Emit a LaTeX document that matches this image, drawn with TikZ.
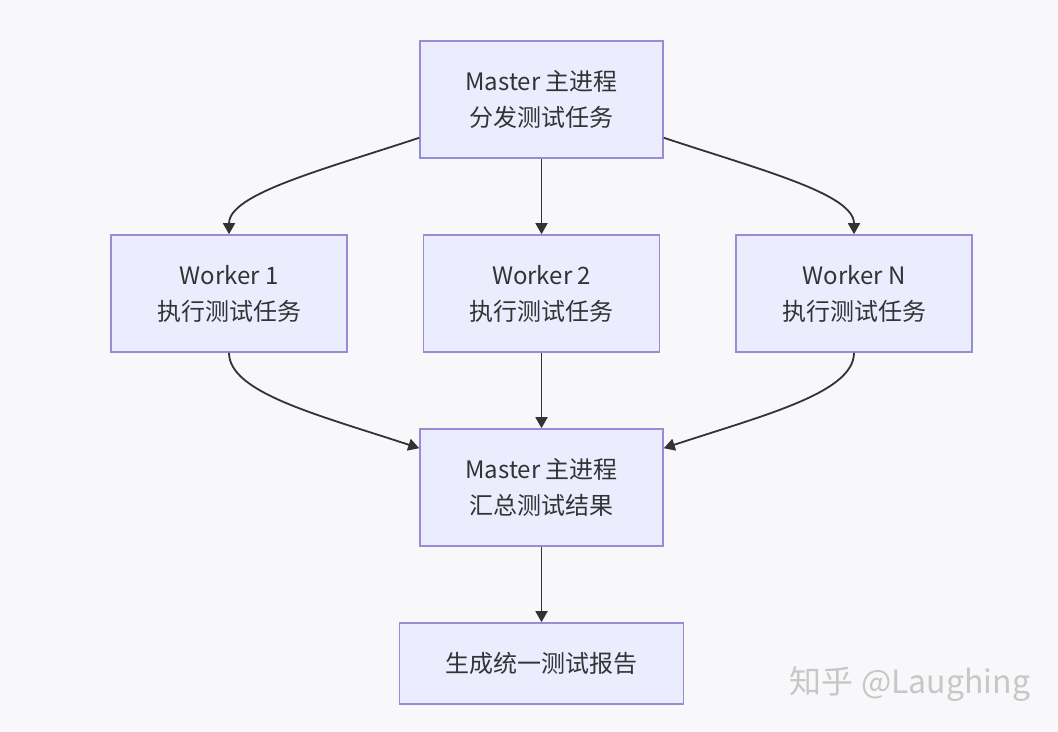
\documentclass[tikz,border=0pt]{standalone}
\usepackage{fontspec}
\newfontfamily\cjk{Noto Sans CJK SC}
\usetikzlibrary{arrows.meta}
\definecolor{bg}{HTML}{F8F8FB}
\definecolor{boxfill}{HTML}{ECECFF}
\definecolor{boxline}{HTML}{9A8CD4}
\definecolor{ink}{HTML}{333333}

\begin{document}
\begin{tikzpicture}[x=0.5pt, y=-0.5pt,
  box/.style={draw=boxline, fill=boxfill, line width=0.8pt, text=ink, align=center,
    minimum width=118pt, minimum height=58.5pt, inner sep=0pt,
    font=\cjk\fontsize{12}{18}\selectfont},
  link/.style={draw=ink, line width=0.9pt, -{Triangle[length=5.5pt, width=6pt]}}]
  \fill[bg] (0, 0) rectangle (1058, 732);
  \useasboundingbox (0, 0) rectangle (1058, 732);
  \node[box, minimum width=121.5pt] (m1) at (541.5, 99.5) {Master 主进程\\分发测试任务};
  \node[box] (w1) at (229, 293.5) {Worker 1\\执行测试任务};
  \node[box] (w2) at (541.5, 293.5) {Worker 2\\执行测试任务};
  \node[box] (wn) at (854, 293.5) {Worker N\\执行测试任务};
  \node[box, minimum width=121.5pt] (m2) at (541.5, 487.5) {Master 主进程\\汇总测试结果};
  \node[box, minimum width=142pt, minimum height=40.5pt] (rep) at (541.5, 663.5) {生成统一测试报告};
  \node[text=black!22, font=\cjk\fontsize{16}{18}\selectfont] (mark) at (910, 684) {知乎 @Laughing};
  \draw[link] ([yshift=10.5pt]m1.south west) .. controls +(-100, 33) and +(0, -40) .. (w1.north);
  \draw[link] (m1) -- (w2);
  \draw[link] ([yshift=10.5pt]m1.south east) .. controls +(100, 33) and +(0, -40) .. (wn.north);
  \draw[link] (w1.south) .. controls +(0, 40) and +(-100, -33) .. ([yshift=-10pt]m2.north west);
  \draw[link] (w2) -- (m2);
  \draw[link] (wn.south) .. controls +(0, 40) and +(100, -33) .. ([yshift=-10pt]m2.north east);
  \draw[link] (m2) -- (rep);
\end{tikzpicture}
\end{document}
